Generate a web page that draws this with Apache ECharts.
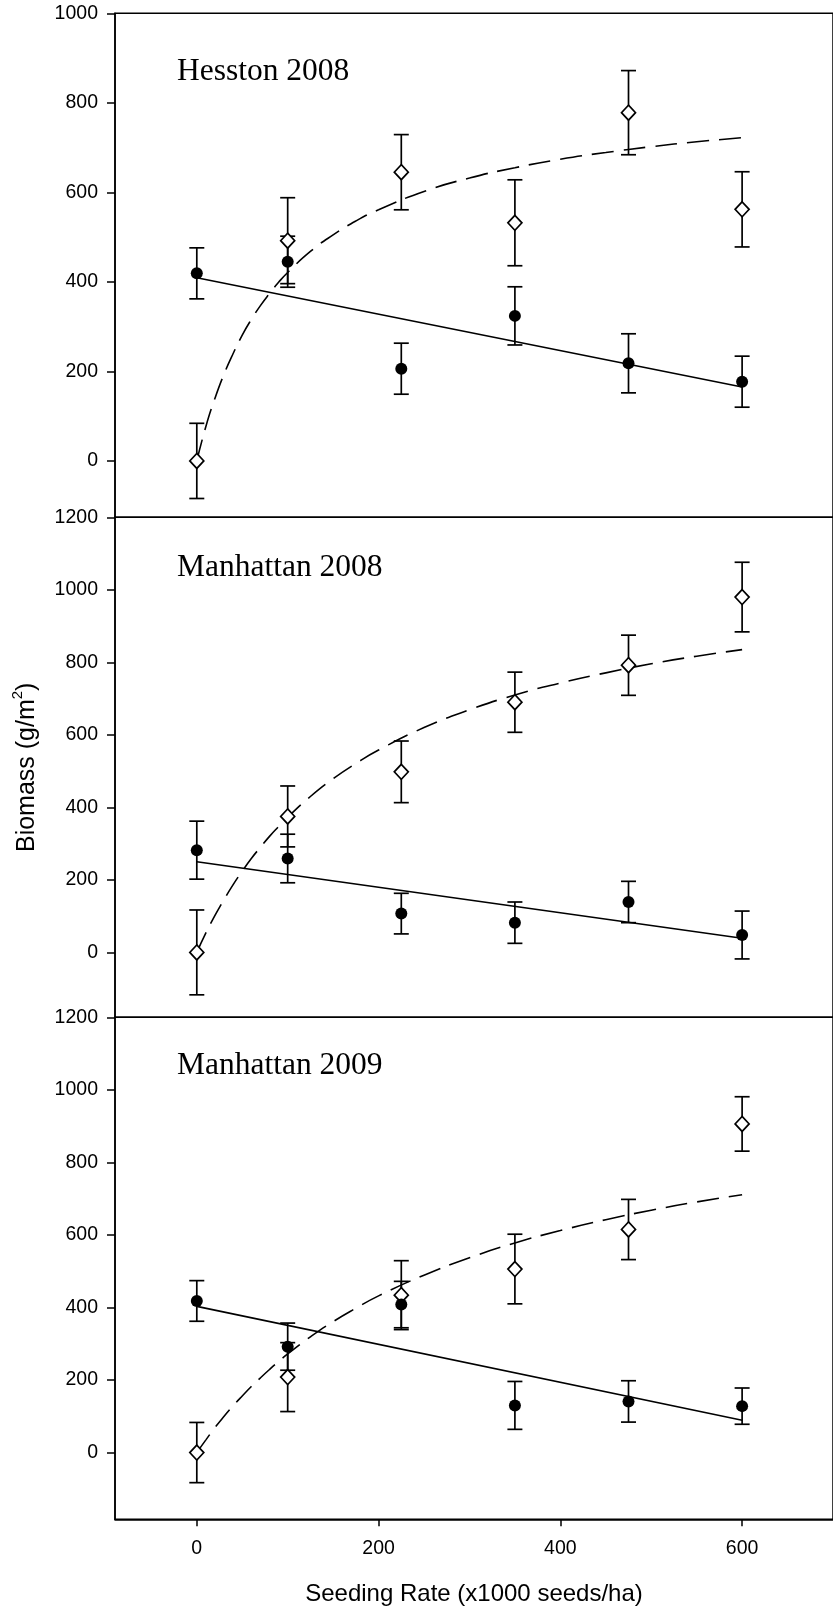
<!DOCTYPE html>
<html>
<head>
<meta charset="utf-8">
<script src="https://cdn.jsdelivr.net/npm/echarts@6/dist/echarts.min.js"></script>
<style>
  html, body { margin: 0; padding: 0; background: #fff; }
  #chart { width: 833px; height: 1616px; }
</style>
</head>
<body>
<div id="chart"></div>
<script>
// Seeding rates (x1000 seeds/ha) at which biomass was sampled
const rates = [0, 100, 225, 350, 475, 600];

// Hesston 2008: filled circles / open diamonds, with standard errors
const hesstonFilled   = [419, 445, 206, 324, 218, 177];
const hesstonFilledSE = [57, 57, 57, 65, 66, 57];
const hesstonOpen     = [0, 492, 645, 532, 778, 562];
const hesstonOpenSE   = [84, 96, 84, 96, 94, 84];

// Manhattan 2008
const man08Filled   = [282, 259, 107, 82, 139, 48];
const man08FilledSE = [80, 67, 56, 57, 57, 66];
const man08Open     = [0, 375, 498, 690, 792, 980];
const man08OpenSE   = [117, 84, 85, 83, 83, 96];

// Manhattan 2009
const man09Filled   = [418, 292, 408, 130, 141, 128];
const man09FilledSE = [56, 65, 64, 66, 57, 50];
const man09Open     = [0, 208, 434, 506, 615, 906];
const man09OpenSE   = [83, 95, 95, 96, 83, 75];

// Fitted lines: straight fit for filled circles (values at rate 0 and 600)
const lineRates = [0, 600];
const hesstonLinear = [409, 165];
const man08Linear   = [250, 39];
const man09Linear   = [403, 89];

// Fitted curves for open diamonds, read at these rates
const curveRates = [0, 10, 20, 30, 40, 50, 60, 70, 80, 90, 100, 125, 150, 175, 200, 250, 300, 350, 400, 450, 500, 550, 600];
const hesstonCurve = [0, 77, 140, 194, 240, 281, 316, 347, 374, 399, 421, 468, 505, 536, 561, 602, 632, 655, 674, 689, 702, 713, 722];
const man08Curve   = [0, 54, 102, 146, 187, 224, 259, 290, 320, 347, 373, 430, 479, 521, 558, 620, 669, 710, 743, 771, 796, 817, 835];
const man09Curve   = [0, 35, 69, 100, 129, 156, 182, 206, 229, 251, 272, 319, 361, 398, 432, 489, 537, 578, 612, 642, 668, 691, 711];

// Tick labels
const hesstonYTicks   = [0, 200, 400, 600, 800, 1000];
const manhattanYTicks = [0, 200, 400, 600, 800, 1000, 1200];
const xTicks = [0, 200, 400, 600];

const panels = [
  { title: 'Hesston 2008',   yMin: -126, yMax: 1000, yTicks: hesstonYTicks,
    filled: hesstonFilled, filledSE: hesstonFilledSE, open: hesstonOpen, openSE: hesstonOpenSE,
    linear: hesstonLinear, curve: hesstonCurve },
  { title: 'Manhattan 2008', yMin: -179, yMax: 1200, yTicks: manhattanYTicks,
    filled: man08Filled, filledSE: man08FilledSE, open: man08Open, openSE: man08OpenSE,
    linear: man08Linear, curve: man08Curve },
  { title: 'Manhattan 2009', yMin: -184, yMax: 1200, yTicks: manhattanYTicks,
    filled: man09Filled, filledSE: man09FilledSE, open: man09Open, openSE: man09OpenSE,
    linear: man09Linear, curve: man09Curve }
];

// Panel layout (pixels)
const gridLeft = 115, gridWidth = 720;
const gridTops = [13.3, 517.3, 1017.3];
const gridHeights = [504, 500, 502];
const titleMidY = [72, 568, 1066];

const INK = '#000';
const SANS = '"Liberation Sans", Arial, Helvetica, sans-serif';
const SERIF = '"Liberation Serif", "Times New Roman", serif';
const plain = v => String(v);

function zip(xs, ys) { return xs.map((x, i) => [x, ys[i]]); }
function zip3(xs, ys, es) { return xs.map((x, i) => [x, ys[i], es[i]]); }

function renderErrorBar(params, api) {
  const x = api.value(0), y = api.value(1), e = api.value(2);
  const top = api.coord([x, y + e]);
  const bot = api.coord([x, y - e]);
  const w = 7.5;
  const style = { stroke: INK, lineWidth: 1.7 };
  return {
    type: 'group',
    children: [
      { type: 'line', shape: { x1: top[0], y1: top[1], x2: bot[0], y2: bot[1] }, style },
      { type: 'line', shape: { x1: top[0] - w, y1: top[1], x2: top[0] + w, y2: top[1] }, style },
      { type: 'line', shape: { x1: bot[0] - w, y1: bot[1], x2: bot[0] + w, y2: bot[1] }, style }
    ]
  };
}

const grid = [], xAxis = [], yAxis = [], series = [], graphic = [];

panels.forEach((p, i) => {
  const last = i === panels.length - 1;
  grid.push({
    left: gridLeft, top: gridTops[i], width: gridWidth, height: gridHeights[i],
    show: true, borderColor: INK, borderWidth: 1.5, backgroundColor: 'transparent'
  });
  xAxis.push({
    type: 'value', gridIndex: i, min: -90, max: 700,
    show: last,
    axisLine: { show: true, onZero: false, lineStyle: { color: INK, width: 1.5 } },
    axisTick: { show: true, length: 7, customValues: xTicks, lineStyle: { color: INK, width: 1.5 } },
    axisLabel: { show: true, customValues: xTicks, formatter: plain, margin: 19, color: INK, fontSize: 19.5, fontFamily: SANS },
    splitLine: { show: false },
    name: last ? 'Seeding Rate (x1000 seeds/ha)' : '',
    nameLocation: 'middle', nameGap: 63,
    nameTextStyle: { color: INK, fontSize: 24, fontFamily: SANS }
  });
  const yAx = {
    type: 'value', gridIndex: i, min: p.yMin, max: p.yMax,
    axisLine: { show: true, onZero: false, lineStyle: { color: INK, width: 1.5 } },
    axisTick: { show: true, length: 8, customValues: p.yTicks, lineStyle: { color: INK, width: 1.5 } },
    axisLabel: { show: true, customValues: p.yTicks, formatter: plain, margin: 17, color: INK, fontSize: 19.5, fontFamily: SANS },
    splitLine: { show: false }
  };
  if (i === 1) {
    yAx.name = '{b|Biomass (g/m}{sup|2}{b|)}';
    yAx.nameLocation = 'middle';
    yAx.nameGap = 75;
    yAx.nameRotate = 90;
    yAx.nameTextStyle = {
      color: INK, fontSize: 25, fontFamily: SANS,
      rich: {
        b: { color: INK, fontSize: 25, fontFamily: SANS, lineHeight: 30, verticalAlign: 'bottom' },
        sup: { color: INK, fontSize: 15, fontFamily: SANS, lineHeight: 15, verticalAlign: 'top' }
      }
    };
  }
  yAxis.push(yAx);

  // error bars
  series.push({
    type: 'custom', xAxisIndex: i, yAxisIndex: i, z: 2,
    renderItem: renderErrorBar, data: zip3(rates, p.open, p.openSE)
  });
  series.push({
    type: 'custom', xAxisIndex: i, yAxisIndex: i, z: 2,
    renderItem: renderErrorBar, data: zip3(rates, p.filled, p.filledSE)
  });
  // fitted straight line (filled circles)
  series.push({
    type: 'line', xAxisIndex: i, yAxisIndex: i, z: 3,
    data: zip(lineRates, p.linear), symbol: 'none',
    lineStyle: { color: INK, width: 1.6 }
  });
  // fitted curve (open diamonds)
  series.push({
    type: 'line', xAxisIndex: i, yAxisIndex: i, z: 3,
    data: zip(curveRates, p.curve), symbol: 'none', smooth: true,
    lineStyle: { color: INK, width: 1.6, type: [22, 10] }
  });
  // open diamonds
  series.push({
    type: 'scatter', xAxisIndex: i, yAxisIndex: i, z: 4,
    data: zip(rates, p.open), symbol: 'diamond', symbolSize: [14, 15],
    itemStyle: { color: '#fff', borderColor: INK, borderWidth: 1.7, opacity: 1 }
  });
  // filled circles
  series.push({
    type: 'scatter', xAxisIndex: i, yAxisIndex: i, z: 5,
    data: zip(rates, p.filled), symbol: 'circle', symbolSize: 12,
    itemStyle: { color: INK, opacity: 1 }
  });

  graphic.push({
    type: 'text', x: 177, y: titleMidY[i], z: 10,
    style: { text: p.title, fill: INK, fontSize: 31.5, fontFamily: SERIF, align: 'left', verticalAlign: 'middle' }
  });
});

const chart = echarts.init(document.getElementById('chart'), null, { renderer: 'canvas' });
chart.setOption({
  animation: false,
  backgroundColor: '#fff',
  grid, xAxis, yAxis, series, graphic,
  tooltip: { show: false }
});
</script>
</body>
</html>
